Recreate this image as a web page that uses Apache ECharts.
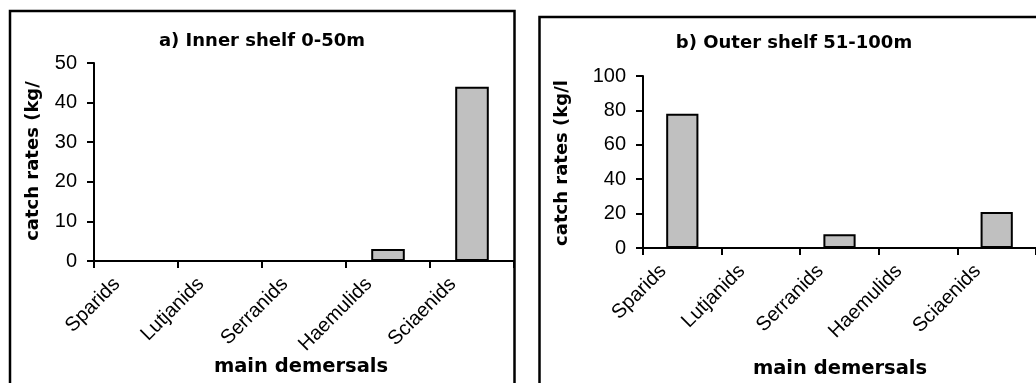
<!DOCTYPE html>
<html>
<head>
<meta charset="utf-8">
<script src="https://cdn.jsdelivr.net/npm/echarts@6/dist/echarts.min.js"></script>
<style>
  html, body { margin: 0; padding: 0; background: #fff; }
  #chart { width: 1036px; height: 383px; }
</style>
</head>
<body>
<div id="chart"></div>
<script>
// Main demersal groups and catch rates per depth stratum
const categories = ['Sparids', 'Lutjanids', 'Serranids', 'Haemulids', 'Sciaenids'];
const innerShelf = [0, 0, 0, 3, 44];   // a) 0-50 m
const outerShelf = [78, 0, 8, 0, 21];  // b) 51-100 m
const innerTicks = { min: 0, max: 50, interval: 10 };
const outerTicks = { min: 0, max: 100, interval: 20 };

const titleA = 'a) Inner shelf 0-50m';
const titleB = 'b) Outer shelf 51-100m';
const yNameA = 'catch rates (kg/';
const yNameB = 'catch rates (kg/l';
const xName = 'main demersals';

const LABEL_FONT = '"Liberation Sans", Arial, sans-serif';
const BOLD_FONT = '"DejaVu Sans", sans-serif';

function catAxis(gridIndex) {
  return {
    type: 'category',
    gridIndex: gridIndex,
    data: categories,
    axisLine: { lineStyle: { color: '#000', width: 2 } },
    axisTick: { show: true, length: 7, lineStyle: { color: '#000', width: 2 } },
    axisLabel: {
      interval: 0, rotate: 45, margin: 1, padding: [0, 27, 0, 0],
      fontFamily: LABEL_FONT, fontSize: 20, color: '#000'
    },
    splitLine: { show: false }
  };
}

function valAxis(gridIndex, ticks) {
  return {
    type: 'value',
    gridIndex: gridIndex,
    min: ticks.min, max: ticks.max, interval: ticks.interval,
    axisLine: { show: true, lineStyle: { color: '#000', width: 2 } },
    axisTick: { show: true, length: 7, lineStyle: { color: '#000', width: 2 } },
    axisLabel: { margin: 17, fontFamily: LABEL_FONT, fontSize: 20, color: '#000' },
    splitLine: { show: false }
  };
}

function barSeries(idx, values, width) {
  return {
    type: 'bar',
    xAxisIndex: idx, yAxisIndex: idx,
    data: values,
    barWidth: width,
    itemStyle: { color: '#c0c0c0', borderColor: '#000', borderWidth: 2 },
    silent: true
  };
}

function boldText(text, x, y, size, rotation) {
  return {
    type: 'text', x: x, y: y, rotation: rotation || 0, z: 10,
    style: {
      text: text, fill: '#000',
      font: 'bold ' + size + 'px ' + BOLD_FONT,
      align: 'center', verticalAlign: 'middle'
    }
  };
}

const chart = echarts.init(document.getElementById('chart'), null, { renderer: 'canvas' });
chart.setOption({
  animation: false,
  backgroundColor: '#fff',
  grid: [
    { left: 94, top: 63, width: 420, height: 198 },
    { left: 643, top: 76, width: 400, height: 172 }
  ],
  xAxis: [catAxis(0), catAxis(1)],
  yAxis: [valAxis(0, innerTicks), valAxis(1, outerTicks)],
  series: [barSeries(0, innerShelf, '40%'), barSeries(1, outerShelf, '41%')],
  graphic: [
    // panel frames
    { type: 'rect', z: 10, shape: { x: 10, y: 11, width: 504.5, height: 420 },
      style: { fill: 'none', stroke: '#000', lineWidth: 2.5 } },
    { type: 'rect', z: 10, shape: { x: 539.5, y: 17, width: 600, height: 420 },
      style: { fill: 'none', stroke: '#000', lineWidth: 2.5 } },
    boldText(titleA, 262, 41, 18),
    boldText(titleB, 794, 43, 18),
    boldText(yNameA, 33, 161, 18, Math.PI / 2),
    boldText(yNameB, 562.5, 163, 18, Math.PI / 2),
    boldText(xName, 301, 367, 19.5),
    boldText(xName, 840, 369, 19.5)
  ]
});
</script>
</body>
</html>
